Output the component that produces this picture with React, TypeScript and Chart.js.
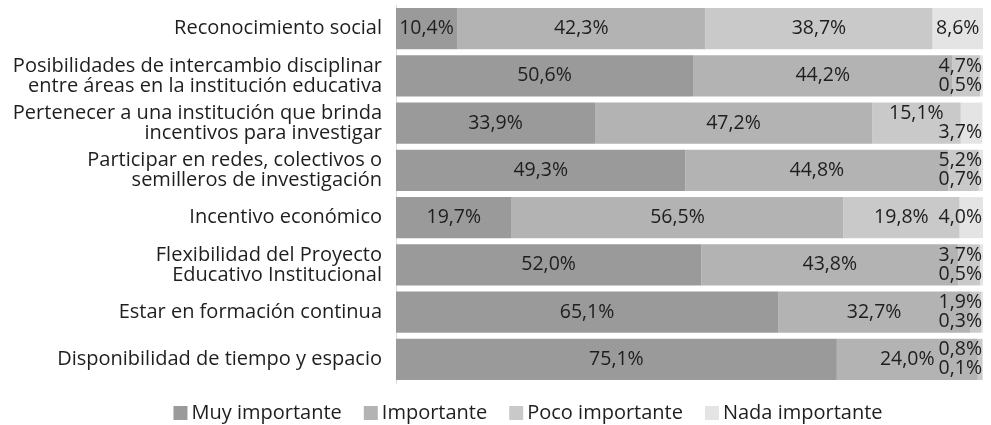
import React, { useEffect, useRef } from "react";
import { Chart, registerables } from "chart.js";

Chart.register(...registerables);

const categories: (string | string[])[] = [
  "Reconocimiento social",
  ["Posibilidades de intercambio disciplinar", "entre áreas en la institución educativa"],
  ["Pertenecer a una institución que brinda", "incentivos para investigar"],
  ["Participar en redes, colectivos o", "semilleros de investigación"],
  "Incentivo económico",
  ["Flexibilidad del Proyecto", "Educativo Institucional"],
  "Estar en formación continua",
  "Disponibilidad de tiempo y espacio",
];

const seriesNames = ["Muy importante", "Importante", "Poco importante", "Nada importante"];
const muyImportante = [10.4, 50.6, 33.9, 49.3, 19.7, 52.0, 65.1, 75.1];
const importante = [42.3, 44.2, 47.2, 44.8, 56.5, 43.8, 32.7, 24.0];
const pocoImportante = [38.7, 4.7, 15.1, 5.2, 19.8, 3.7, 1.9, 0.8];
const nadaImportante = [8.6, 0.5, 3.7, 0.7, 4.0, 0.5, 0.3, 0.1];
const seriesColors = ["#9a9a9a", "#b3b3b3", "#c9c9c9", "#e4e4e4"];

const FONT = '"Open Sans", sans-serif';
const TEXT_COLOR = "#1e1e1e";

const fmt = (v: number) => v.toFixed(1).replace(".", ",") + "%";

const segLabels = {
  id: "segLabels",
  afterDatasetsDraw(chart: any) {
    const ctx = chart.ctx;
    const area = chart.chartArea;
    ctx.save();
    ctx.font = `19.5px ${FONT}`;
    ctx.fillStyle = TEXT_COLOR;
    ctx.textBaseline = "middle";
    ctx.textAlign = "left";
    const n = chart.data.labels.length;
    for (let i = 0; i < n; i++) {
      const items: { text: string; l: number; w: number; y: number }[] = [];
      chart.data.datasets.forEach((ds: any, d: number) => {
        const el: any = chart.getDatasetMeta(d).data[i];
        const text = fmt(ds.data[i]);
        const w = ctx.measureText(text).width;
        const left = Math.min(el.base, el.x);
        const right = Math.max(el.base, el.x);
        let l = (left + right) / 2 - w / 2;
        if (d === 3 && right - left < w + 4) l = area.right - 1 - w;
        if (l + w > area.right - 1) l = area.right - 1 - w;
        items.push({ text, l, w, y: el.y });
      });
      const p = items[2];
      const q = items[3];
      if (p.l + p.w + 3 > q.l) {
        p.y -= 9.5;
        q.y += 9.5;
      }
      items.forEach((it) => ctx.fillText(it.text, it.l, it.y));
    }
    ctx.restore();
  },
};

const bottomLegend = {
  id: "bottomLegend",
  afterDraw(chart: any) {
    const ctx = chart.ctx;
    ctx.save();
    ctx.font = `20px ${FONT}`;
    ctx.textBaseline = "middle";
    ctx.textAlign = "left";
    const box = 14;
    const gapText = 4;
    const gapItem = 22;
    const ds = chart.data.datasets;
    const widths = ds.map((d: any) => ctx.measureText(d.label).width);
    const total =
      widths.reduce((a: number, w: number) => a + box + gapText + w, 0) + gapItem * (ds.length - 1);
    const centerX = 528;
    const y = 413;
    let x = centerX - total / 2;
    ds.forEach((d: any, k: number) => {
      ctx.fillStyle = d.backgroundColor;
      ctx.fillRect(x, y - box / 2, box, box);
      ctx.fillStyle = TEXT_COLOR;
      ctx.fillText(d.label, x + box + gapText, y);
      x += box + gapText + widths[k] + gapItem;
    });
    ctx.restore();
  },
};

export default function App() {
  const ref = useRef<HTMLCanvasElement | null>(null);
  useEffect(() => {
    document.body.style.margin = "0";
    const canvas = ref.current;
    if (!canvas) return;
    const values = [muyImportante, importante, pocoImportante, nadaImportante];
    const chart = new Chart(canvas, {
      type: "bar",
      data: {
        labels: categories as any,
        datasets: values.map((data, k) => ({
          label: seriesNames[k],
          data,
          backgroundColor: seriesColors[k],
          borderWidth: 0,
          barPercentage: 0.87,
          categoryPercentage: 1,
        })),
      },
      options: {
        indexAxis: "y",
        animation: false,
        responsive: false,
        maintainAspectRatio: false,
        layout: { padding: { left: 0, right: 8, top: 5, bottom: 42 } },
        scales: {
          x: { stacked: true, min: 0, max: 100, display: false },
          y: {
            stacked: true,
            grid: { display: false, drawTicks: false },
            border: { display: true, color: "#d9d9d9", width: 1 },
            ticks: {
              color: TEXT_COLOR,
              autoSkip: false,
              padding: 14,
              font: { family: FONT, size: 20, lineHeight: 1 },
            },
            afterFit(scale: any) {
              scale.width = 396;
              scale.paddingTop = 0;
              scale.paddingBottom = 0;
            },
          },
        },
        plugins: {
          legend: { display: false },
          tooltip: { enabled: false },
        },
      },
      plugins: [segLabels, bottomLegend],
    });
    return () => chart.destroy();
  }, []);
  return <canvas ref={ref} width={991} height={425} style={{ display: "block", width: 991, height: 425 }} />;
}
